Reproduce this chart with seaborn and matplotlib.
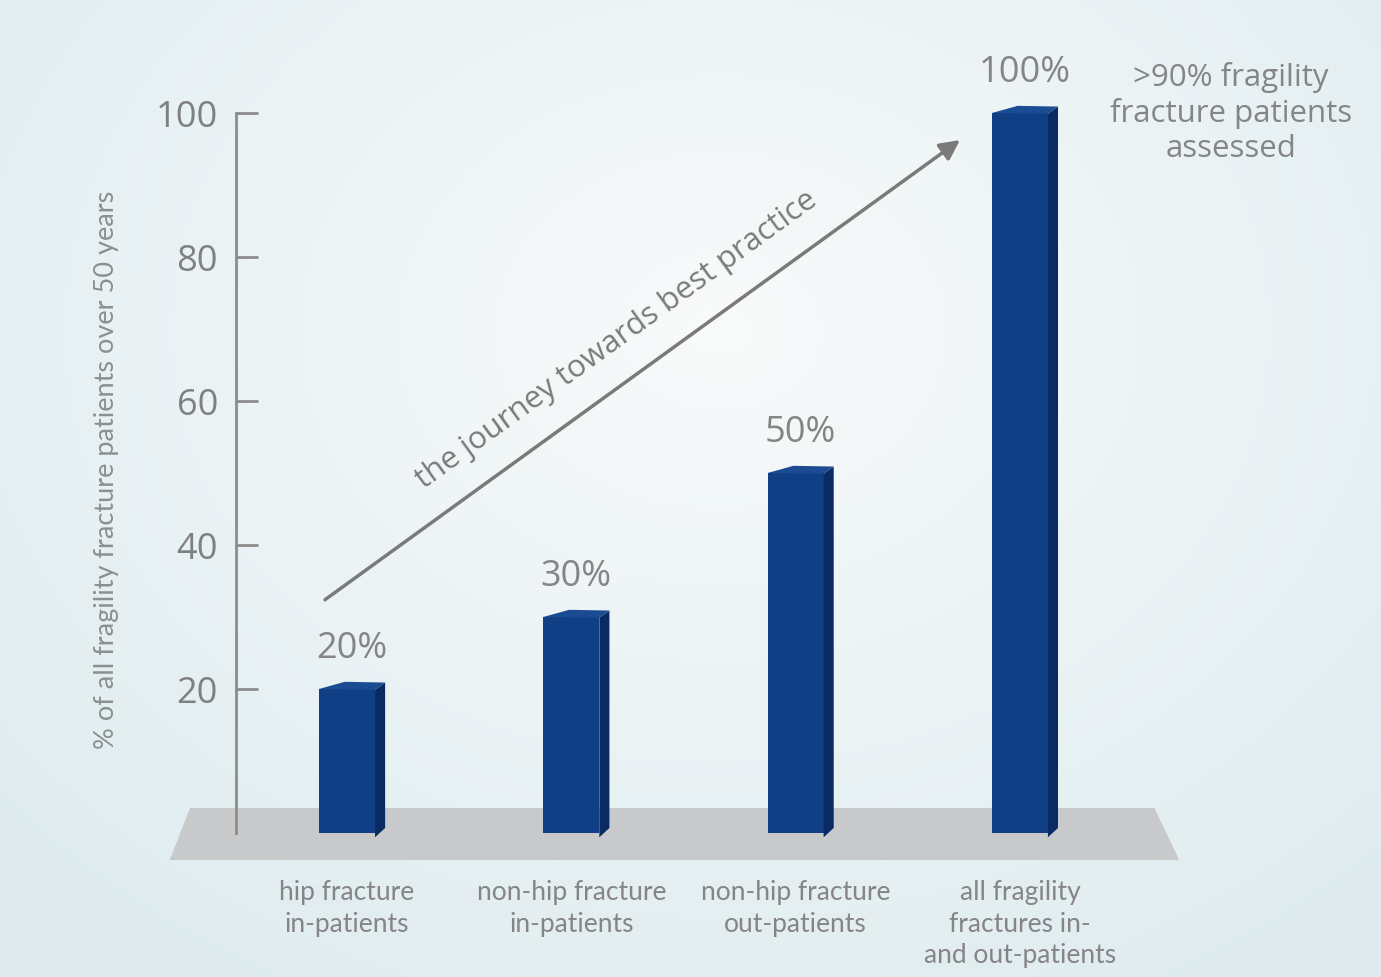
import numpy as np
import pandas as pd
import matplotlib
matplotlib.use("Agg")
import matplotlib.pyplot as plt
import seaborn as sns
from matplotlib.patches import Polygon

# ---- data ----
categories = ["hip fracture\nin-patients", "non-hip fracture\nin-patients",
              "non-hip fracture\nout-patients", "all fragility\nfractures in-\nand out-patients"]
values = [20, 30, 50, 100]
value_labels = ["20%", "30%", "50%", "100%"]
yticks = [0, 20, 40, 60, 80, 100]
ytick_labels = ["", "20", "40", "60", "80", "100"]
ylabel = "% of all fragility fracture patients over 50 years"
arrow_text = "the journey towards best practice"
note_text = ">90% fragility\nfracture patients\nassessed"

FRONT = "#103f86"
SIDE = "#0a2b62"
TOP = "#1b4b92"
GRAY_TXT = "#858585"
AXIS = "#8c8c8c"

sns.set_theme(style="white")
plt.rcParams["font.family"] = ["Open Sans", "DejaVu Sans"]

fig = plt.figure(figsize=(13.81, 9.77), dpi=100)

# background gradient
bg = fig.add_axes([0, 0, 1, 1], zorder=-10)
H, W = 977, 1381
yy, xx = np.mgrid[0:H, 0:W]
d = np.sqrt(((xx - 720) / 950.0) ** 2 + ((yy - 330) / 750.0) ** 2)
t = np.clip(d, 0, 1)[..., None]
c0 = np.array([0.975, 0.982, 0.982])
c1 = np.array([0.875, 0.925, 0.94])
img = c0 * (1 - t) + c1 * t
bg.imshow(img, aspect="auto", extent=[0, 1, 0, 1])
bg.axis("off")

ax = fig.add_axes([0, 0, 1, 1])
ax.set_facecolor("none")
df = pd.DataFrame({"category": categories, "value": values})
sns.barplot(data=df, x="category", y="value", color=FRONT, width=0.25,
            saturation=1, ax=ax, zorder=3, linewidth=0, edgecolor=FRONT)
ax.set_xlim(-1.547, 4.61)
ax.set_ylim(-20, 115.7)

# floor
floor = Polygon([(-0.79, -3.75), (3.71, -3.75), (3.60, 3.47), (-0.70, 3.47)],
                closed=True, facecolor="#c8c9ca", edgecolor="none", zorder=1)
ax.add_patch(floor)

# 3D faces derived from the bars
dx = 0.045
for p, lab in zip(list(ax.patches)[:len(values)], value_labels):
    x0 = p.get_x(); w = p.get_width(); h = p.get_height()
    side = Polygon([(x0 + w, -0.6), (x0 + w + dx, 0.7), (x0 + w + dx, h + 0.9), (x0 + w, h - 0.1)],
                   closed=True, facecolor=SIDE, edgecolor="none", zorder=3.1)
    top = Polygon([(x0, h), (x0 + 0.115, h + 1.0), (x0 + w + dx, h + 0.9), (x0 + w, h - 0.1)],
                  closed=True, facecolor=TOP, edgecolor="none", zorder=3.2)
    ax.add_patch(side)
    ax.add_patch(top)
    ax.text(x0 + (w + dx) / 2, h + 3, lab, ha="center", va="bottom",
            fontsize=26, color=GRAY_TXT, zorder=5)

# spines / ticks
for s in ["top", "right"]:
    ax.spines[s].set_visible(False)
ax.spines["left"].set_position(("data", -0.495))
ax.spines["left"].set_bounds(0, 100)
ax.spines["left"].set_color(AXIS)
ax.spines["left"].set_linewidth(2)
ax.spines["left"].set_zorder(2.5)
ax.spines["bottom"].set_position(("data", -5))
ax.spines["bottom"].set_visible(False)

ax.set_yticks(yticks, ytick_labels)
ax.tick_params(axis="y", direction="in", length=16, width=2, color=AXIS,
               labelsize=26, labelcolor="#808080", pad=13, left=True)
ax.tick_params(axis="x", length=0, pad=8, labelsize=19, labelcolor=GRAY_TXT, bottom=False)
for lbl in ax.get_xticklabels():
    lbl.set_linespacing(1.33)
    lbl.set_family(["Lato", "DejaVu Sans"])

ax.set_xlabel("")
ax.set_ylabel(ylabel, fontsize=19.5, color="#8a9090", family=["Lato", "DejaVu Sans"])
ax.yaxis.set_label_coords(0.086, 0.519)

# arrow
ax.annotate("", xy=(2.733, 96.25), xytext=(-0.098, 32.4),
            arrowprops=dict(arrowstyle="-|>", color="#7a7a7a", lw=2.5,
                            mutation_scale=30, shrinkA=0, shrinkB=0), zorder=4)
ax.text(1.2, 68.5, arrow_text, rotation=35.9, rotation_mode="anchor",
        ha="center", va="center", fontsize=22.5, color="#7a7a7a", zorder=4)

ax.text(3.94, 100, note_text, ha="center", va="center", fontsize=22.5,
        color=GRAY_TXT, linespacing=1.2, zorder=4)

fig.savefig("out.png", dpi=100)
